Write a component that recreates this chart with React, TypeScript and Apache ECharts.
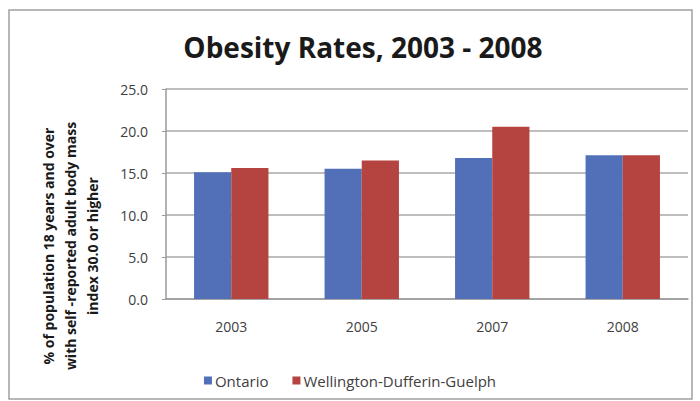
import React, { useEffect, useRef } from "react";
import * as echarts from "echarts";

const categories = ["2003", "2005", "2007", "2008"];
const ontario = [15.1, 15.5, 16.8, 17.1];
const wdg = [15.6, 16.5, 20.5, 17.1];
const seriesNames = ["Ontario", "Wellington-Dufferin-Guelph"];
const titleText = "Obesity Rates, 2003 - 2008";
const yAxisNameLines = [
  "% of population 18 years and over",
  "with self -reported adult body mass",
  "index 30.0 or higher",
];

export default function App() {
  const ref = useRef<HTMLDivElement>(null);
  useEffect(() => {
    document.body.style.margin = "0";
    const chart = echarts.init(ref.current!, undefined, { renderer: "svg" });
    chart.setOption({
      animation: false,
      backgroundColor: "#ffffff",
      title: {
        text: titleText,
        left: 358,
        textAlign: "center",
        top: 28,
        textStyle: {
          fontFamily: "Open Sans",
          fontWeight: "bold",
          fontSize: 28,
          color: "#1a1a1a",
        },
      },
      legend: {
        data: seriesNames,
        left: "center",
        top: 368,
        itemWidth: 8,
        itemHeight: 8,
        itemGap: 24,
        icon: "rect",
        textStyle: { fontFamily: "Open Sans", fontSize: 15, color: "#404040", padding: [0, 0, 0, -2] },
      },
      grid: { left: 166, right: 12, top: 89, bottom: 102 },
      xAxis: {
        type: "category",
        data: categories,
        axisLine: { show: true, lineStyle: { color: "#9a9a9a", width: 1.5 } },
        axisTick: { show: false },
        axisLabel: {
          margin: 20,
          fontFamily: "Open Sans",
          fontSize: 14,
          color: "#404040",
        },
      },
      yAxis: {
        type: "value",
        min: 0,
        max: 25,
        interval: 5,
        axisLine: { show: true, lineStyle: { color: "#9a9a9a", width: 1.5 } },
        axisTick: { show: true, length: 4, lineStyle: { color: "#9a9a9a" } },
        splitLine: { lineStyle: { color: "#a8a8a8", width: 1.5 } },
        axisLabel: {
          margin: 18,
          fontFamily: "Open Sans",
          fontSize: 14,
          color: "#404040",
          formatter: (v: number) => v.toFixed(1),
        },
      },
      graphic: [
        {
          type: "rect",
          shape: { x: 9, y: 10, width: 683, height: 389 },
          style: { fill: "none", stroke: "#a0a0a0", lineWidth: 1.5 },
          silent: true,
        },
        {
          type: "text",
          x: 70,
          y: 246,
          rotation: Math.PI / 2,
          style: {
            text: yAxisNameLines.join("\n"),
            fontFamily: "Open Sans",
            fontWeight: "bold",
            fontSize: 14,
            lineHeight: 22,
            fill: "#1a1a1a",
            align: "center",
            verticalAlign: "middle",
          },
        },
      ],
      series: [
        {
          name: seriesNames[0],
          type: "bar",
          data: ontario,
          barGap: "0%",
          barCategoryGap: "43%",
          itemStyle: { color: "#5170B8" },
        },
        {
          name: seriesNames[1],
          type: "bar",
          data: wdg,
          itemStyle: { color: "#B5433F" },
        },
      ],
    });
    return () => chart.dispose();
  }, []);
  return <div ref={ref} style={{ width: 700, height: 401 }} />;
}
